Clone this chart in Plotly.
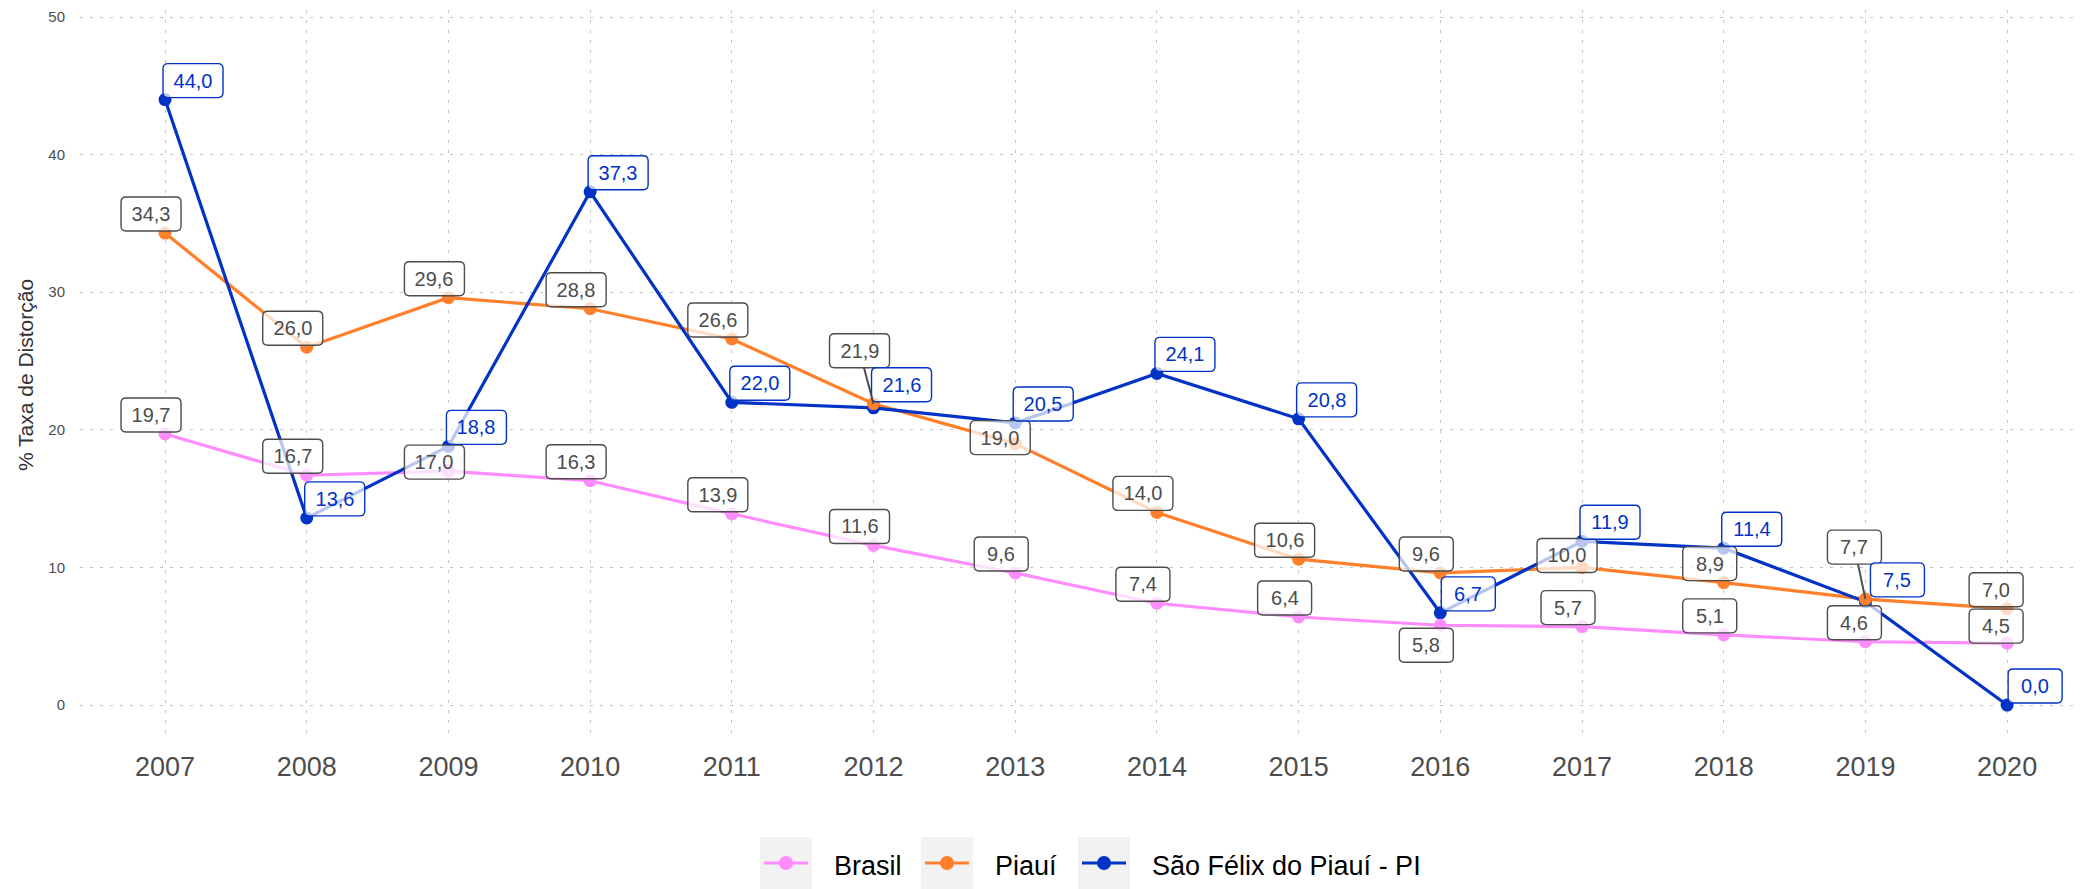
import plotly.graph_objects as go

# ---- data -------------------------------------------------------------
years = [2007, 2008, 2009, 2010, 2011, 2012, 2013, 2014, 2015, 2016, 2017, 2018, 2019, 2020]
brasil = [19.7, 16.7, 17.0, 16.3, 13.9, 11.6, 9.6, 7.4, 6.4, 5.8, 5.7, 5.1, 4.6, 4.5]
piaui = [34.3, 26.0, 29.6, 28.8, 26.6, 21.9, 19.0, 14.0, 10.6, 9.6, 10.0, 8.9, 7.7, 7.0]
sao_felix = [44.0, 13.6, 18.8, 37.3, 22.0, 21.6, 20.5, 24.1, 20.8, 6.7, 11.9, 11.4, 7.5, 0.0]
series_names = ["Brasil", "Piauí", "São Félix do Piauí - PI"]
y_ticks = [0, 10, 20, 30, 40, 50]
y_title = "% Taxa de Distorção"

# ---- styling ----------------------------------------------------------
FONT = "Liberation Sans, Arial, Helvetica, sans-serif"
W, H = 2080, 889
M_L, M_R, M_T, M_B = 80, 4, 10, 149
PLOT_W = W - M_L - M_R
PLOT_H = H - M_T - M_B
YEAR_PX = 141.7            # horizontal spacing between consecutive years
X_PAD = 0.6                # discrete-axis padding, in years
Y_RANGE = [-2.54, 50.51]

line_colors = ["#FF8CFF", "#FF7F2A", "#0033C6"]
label_colors = ["#4D4D4D", "#4D4D4D", "#0033C6"]
default_shift = [(-14, -19), (-14, -19), (28, -19)]   # label centre offset (px, down positive)

# label placement tweaks where labels would collide (repel-style)
label_shift = {
    ("Piauí", 2012): (-14, -53),
    ("Piauí", 2013): (-15, -6),
    ("Piauí", 2017): (-15, -12),
    ("Piauí", 2019): (-11, -52),
    ("Piauí", 2020): (-11, -19),
    ("Brasil", 2009): (-14, -9),
    ("Brasil", 2016): (-14, 20),
    ("Brasil", 2019): (-11, -19),
    ("Brasil", 2020): (-11, -17),
    ("São Félix do Piauí - PI", 2012): (28, -23),
    ("São Félix do Piauí - PI", 2019): (32, -22),
}
with_segment = {("Piauí", 2012), ("Piauí", 2019)}

series_values = [brasil, piaui, sao_felix]

fig = go.Figure()

# lines first, then points on top (all series)
for name, vals, col in zip(series_names, series_values, line_colors):
    fig.add_trace(go.Scatter(x=years, y=vals, mode="lines", name=name,
                             line=dict(color=col, width=3.2), showlegend=False,
                             hoverinfo="skip"))
for idx in [2, 0, 1]:
    fig.add_trace(go.Scatter(x=years, y=series_values[idx], mode="markers",
                             name=series_names[idx],
                             marker=dict(color=line_colors[idx], size=13),
                             showlegend=False))


def rounded_box(cx, cy, hw, hh, r):
    """SVG path of a rounded rectangle centred at (cx, cy), pixel units, y up."""
    x0, x1, y0, y1 = cx - hw, cx + hw, cy - hh, cy + hh
    return (f"M{x0 + r},{y0} L{x1 - r},{y0} Q{x1},{y0} {x1},{y0 + r} "
            f"L{x1},{y1 - r} Q{x1},{y1} {x1 - r},{y1} L{x0 + r},{y1} "
            f"Q{x0},{y1} {x0},{y1 - r} L{x0},{y0 + r} Q{x0},{y0} {x0 + r},{y0} Z")


# value labels: rounded box (shape) + text (annotation)
annotations = []
shapes = []
BOX_H = 34
for si, (name, vals) in enumerate(zip(series_names, series_values)):
    for yr, v in zip(years, vals):
        txt = f"{v:.1f}".replace(".", ",")
        dx, dy = label_shift.get((name, yr), default_shift[si])
        box_w = 60 if len(txt) >= 4 else 54
        shapes.append(dict(
            type="path", xref="x", yref="y", xsizemode="pixel", ysizemode="pixel",
            xanchor=yr, yanchor=v,
            path=rounded_box(dx, -dy, box_w / 2, BOX_H / 2, 5),
            fillcolor="rgba(255,255,255,0.72)",
            line=dict(color=label_colors[si], width=1.4), layer="above"))
        common = dict(
            x=yr, y=v, xref="x", yref="y", text=txt,
            font=dict(family=FONT, size=20, color=label_colors[si]),
            bgcolor="rgba(0,0,0,0)", borderwidth=0, borderpad=0,
            width=box_w, height=BOX_H, align="center", valign="middle",
        )
        if (name, yr) in with_segment:
            annotations.append(dict(common, showarrow=True, ax=dx, ay=dy,
                                    axref="pixel", ayref="pixel",
                                    arrowhead=0, arrowwidth=2,
                                    arrowcolor="#4D4D4D", standoff=0))
        else:
            annotations.append(dict(common, showarrow=False, xshift=dx, yshift=-dy,
                                    xanchor="center", yanchor="middle"))


def px_x(px):
    return (px - M_L) / PLOT_W


def px_y(py):
    return (H - M_B - py) / PLOT_H


# legend drawn below the panel: grey key, line + dot, series name
key_left = [760, 921, 1078]
key_w, key_top, key_bot = 52, 837, 889
key_mid = (key_top + key_bot) / 2
for name, col, kx in zip(series_names, line_colors, key_left):
    shapes.append(dict(type="rect", xref="paper", yref="paper",
                       x0=px_x(kx), x1=px_x(kx + key_w), y0=px_y(key_bot), y1=px_y(key_top),
                       fillcolor="#F2F2F2", line=dict(width=0), layer="below"))
    shapes.append(dict(type="line", xref="paper", yref="paper",
                       x0=px_x(kx + 4), x1=px_x(kx + key_w - 4), y0=px_y(key_mid), y1=px_y(key_mid),
                       line=dict(color=col, width=3.2)))
    shapes.append(dict(type="circle", xref="paper", yref="paper",
                       xsizemode="pixel", ysizemode="pixel",
                       xanchor=px_x(kx + key_w / 2), yanchor=px_y(key_mid),
                       x0=-7, x1=7, y0=-7, y1=7,
                       fillcolor=col, line=dict(width=0)))
    annotations.append(dict(x=px_x(kx + key_w + 20), y=px_y(key_mid + 3), xref="paper", yref="paper",
                            text=name, showarrow=False, xanchor="left", yanchor="middle",
                            font=dict(family=FONT, size=27, color="#000000")))

grid = dict(showgrid=True, gridcolor="#C4C4C4", griddash="3px,7px", gridwidth=1,
            zeroline=False, showline=False, ticks="")

fig.update_layout(
    width=W, height=H,
    margin=dict(l=M_L, r=M_R, t=M_T, b=M_B),
    plot_bgcolor="white", paper_bgcolor="white",
    font=dict(family=FONT),
    showlegend=False,
    xaxis=dict(grid, range=[years[0] - X_PAD, years[0] - X_PAD + PLOT_W / YEAR_PX],
               tickmode="array", tickvals=years, ticktext=[str(y) for y in years],
               tickfont=dict(family=FONT, size=27, color="#4D4D4D"),
               ticklabelstandoff=8),
    yaxis=dict(grid, range=Y_RANGE, tickmode="array", tickvals=y_ticks,
               ticktext=[str(t) for t in y_ticks],
               tickfont=dict(family=FONT, size=15, color="#4D4D4D"),
               ticklabelstandoff=14,
               title=dict(text=y_title, font=dict(family=FONT, size=21, color="#333333"),
                          standoff=8)),
    annotations=annotations,
    shapes=shapes,
)

fig.write_html("out.html")
